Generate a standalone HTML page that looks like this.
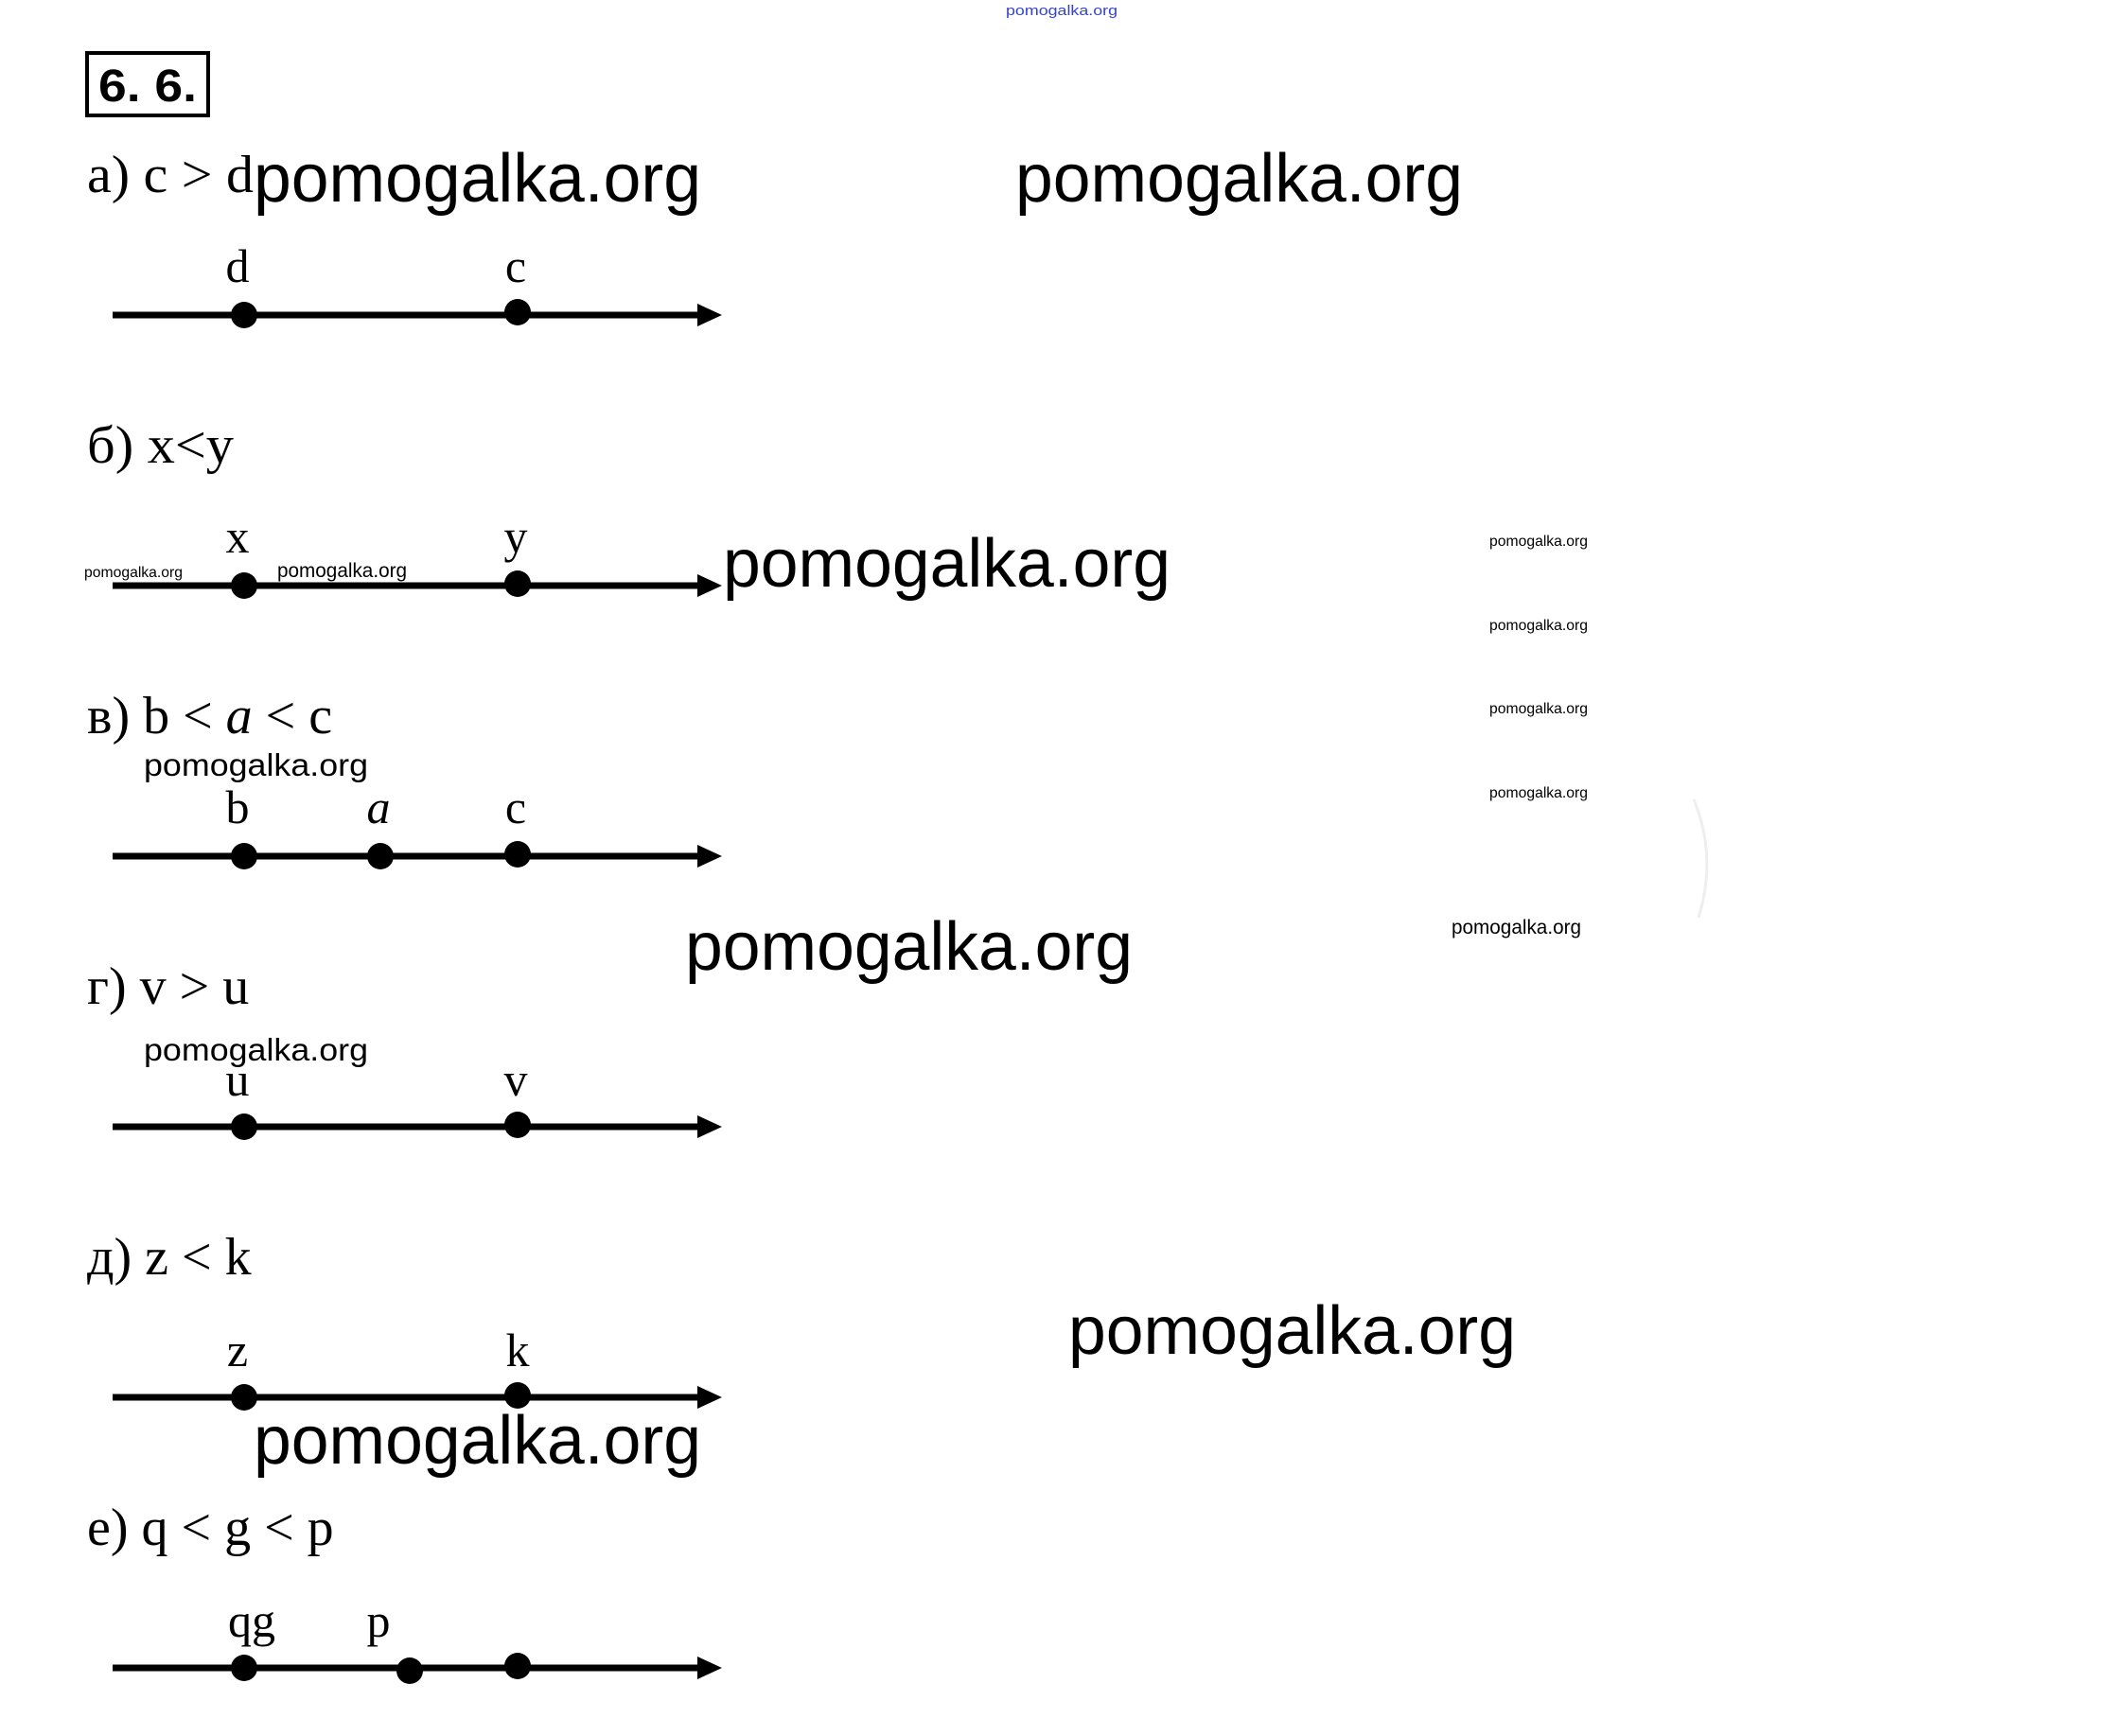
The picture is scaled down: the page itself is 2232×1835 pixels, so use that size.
<!DOCTYPE html>
<html><head><meta charset="utf-8"><style>
html,body{margin:0;padding:0;background:#fff;}
svg{display:block;}
.s{font-family:"Liberation Serif",serif;fill:#000;}
.w{font-family:"Liberation Sans",sans-serif;fill:#000;}
</style></head><body>
<svg width="2232" height="1835" viewBox="0 0 2232 1835" xmlns="http://www.w3.org/2000/svg">
<rect width="2232" height="1835" fill="#fff"/>
<text x="1063" y="16" class="w" font-size="15" style="fill:#3344cc" textLength="118" lengthAdjust="spacingAndGlyphs">pomogalka.org</text>
<rect x="92" y="56" width="128" height="66" fill="none" stroke="#000" stroke-width="4"/>
<text x="104" y="107" class="w" font-size="48" font-weight="bold" textLength="104" lengthAdjust="spacingAndGlyphs">6. 6.</text>

<g class="s" font-size="56">
<text x="92" y="203" textLength="176" lengthAdjust="spacingAndGlyphs">а) c &gt; d</text>
<text x="92" y="489" textLength="155" lengthAdjust="spacingAndGlyphs">б) x&lt;y</text>
<text x="92" y="775">в) b &lt; <tspan font-style="italic">a</tspan> &lt; c</text>
<text x="92" y="1061">г) v &gt; u</text>
<text x="92" y="1347">д) z &lt; k</text>
<text x="92" y="1633">е) q &lt; g &lt; p</text>
</g>

<g fill="#000" stroke="#000">
<g stroke-width="7">
<line x1="119" y1="333" x2="745" y2="333"/>
<line x1="119" y1="619" x2="745" y2="619"/>
<line x1="119" y1="905" x2="745" y2="905"/>
<line x1="119" y1="1191" x2="745" y2="1191"/>
<line x1="119" y1="1477" x2="745" y2="1477"/>
<line x1="119" y1="1763" x2="745" y2="1763"/>
</g>
<g stroke="none">
<polygon points="737,321 763,333 737,345"/>
<polygon points="737,607 763,619 737,631"/>
<polygon points="737,893 763,905 737,917"/>
<polygon points="737,1179 763,1191 737,1203"/>
<polygon points="737,1465 763,1477 737,1489"/>
<polygon points="737,1751 763,1763 737,1775"/>
<circle cx="258" cy="333" r="14"/><circle cx="547" cy="330" r="14"/>
<circle cx="258" cy="619" r="14"/><circle cx="547" cy="617" r="14"/>
<circle cx="258" cy="905" r="14"/><circle cx="402" cy="905" r="14"/><circle cx="547" cy="903" r="14"/>
<circle cx="258" cy="1191" r="14"/><circle cx="547" cy="1189" r="14"/>
<circle cx="258" cy="1477" r="14"/><circle cx="547" cy="1475" r="14"/>
<circle cx="258" cy="1763" r="14"/><circle cx="433" cy="1766" r="14"/><circle cx="547" cy="1761" r="14"/>
</g>
</g>

<g class="s" font-size="50" text-anchor="middle">
<text x="251" y="298">d</text><text x="545" y="298">c</text>
<text x="251" y="584">x</text><text x="545" y="584">y</text>
<text x="251" y="870">b</text><text x="400" y="870" font-style="italic">a</text><text x="545" y="870">c</text>
<text x="251" y="1158">u</text><text x="545" y="1158">v</text>
<text x="251" y="1444">z</text><text x="547" y="1444">k</text>
<text x="266" y="1730">qg</text><text x="400" y="1730">p</text>
</g>

<g class="w" font-size="72">
<text x="268" y="213" textLength="473" lengthAdjust="spacingAndGlyphs">pomogalka.org</text>
<text x="1073" y="213" textLength="473" lengthAdjust="spacingAndGlyphs">pomogalka.org</text>
<text x="764" y="620" textLength="473" lengthAdjust="spacingAndGlyphs">pomogalka.org</text>
<text x="724" y="1025" textLength="473" lengthAdjust="spacingAndGlyphs">pomogalka.org</text>
<text x="1129" y="1431" textLength="473" lengthAdjust="spacingAndGlyphs">pomogalka.org</text>
<text x="268" y="1547" textLength="473" lengthAdjust="spacingAndGlyphs">pomogalka.org</text>
</g>
<g class="w" font-size="33">
<text x="152" y="820" textLength="237" lengthAdjust="spacingAndGlyphs">pomogalka.org</text>
<text x="152" y="1121" textLength="237" lengthAdjust="spacingAndGlyphs">pomogalka.org</text>
</g>
<text x="1534" y="987" class="w" font-size="21" textLength="137" lengthAdjust="spacingAndGlyphs">pomogalka.org</text>
<text x="293" y="610" class="w" font-size="21" textLength="137" lengthAdjust="spacingAndGlyphs">pomogalka.org</text>
<g class="w" font-size="16">
<text x="89" y="610" textLength="104" lengthAdjust="spacingAndGlyphs">pomogalka.org</text>
<text x="1574" y="577" textLength="104" lengthAdjust="spacingAndGlyphs">pomogalka.org</text>
<text x="1574" y="666" textLength="104" lengthAdjust="spacingAndGlyphs">pomogalka.org</text>
<text x="1574" y="754" textLength="104" lengthAdjust="spacingAndGlyphs">pomogalka.org</text>
<text x="1574" y="843" textLength="104" lengthAdjust="spacingAndGlyphs">pomogalka.org</text>
</g>
<path d="M1790 845 Q1815 905 1795 970" fill="none" stroke="#eee" stroke-width="3"/>
</svg>
</body></html>
